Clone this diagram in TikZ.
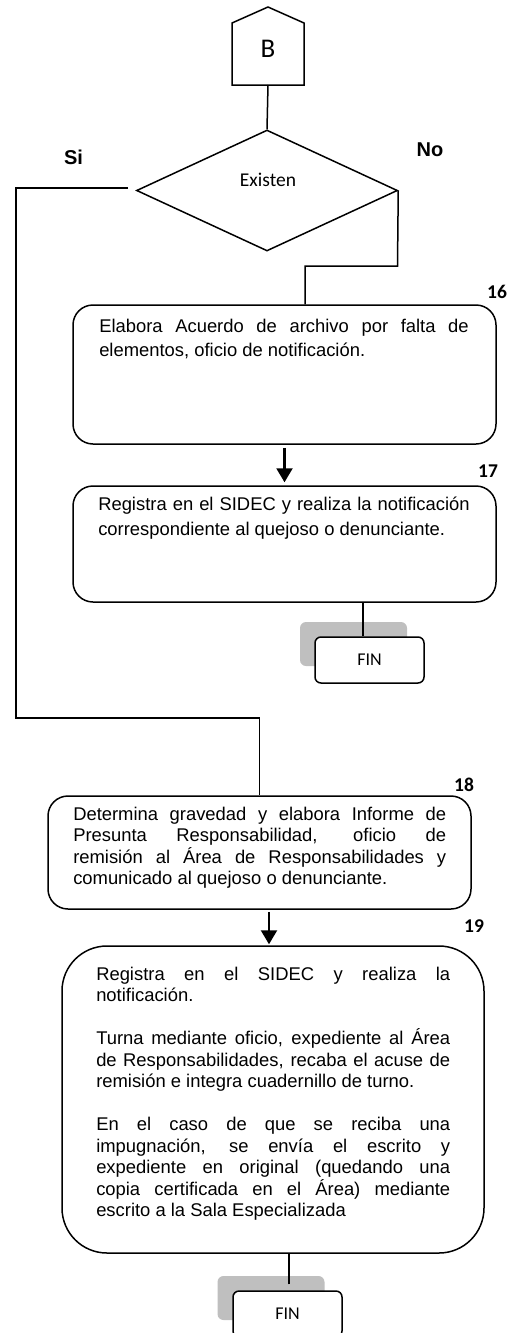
\documentclass[tikz,border=0pt]{standalone}
\usepackage{fontspec}
\setmainfont{Liberation Sans}
\newfontfamily\calibri{Carlito}
\usetikzlibrary{arrows.meta, shapes.geometric}
\definecolor{shadegray}{HTML}{BFBFBF}
\setlength{\parindent}{0pt}
\hyphenpenalty=10000
\tolerance=9999

\begin{document}
\begin{tikzpicture}[x=1pt, y=-1pt, line width=1.5pt,
    procbox/.style={draw, rounded corners=20pt, minimum width=423pt, inner sep=0pt},
    bodytext/.style={anchor=base west, inner sep=0pt, align=justify, font=\fontsize{18.4}{21.5}\selectfont},
    finbox/.style={draw, fill=white, rounded corners=6pt, minimum width=109pt, minimum height=46pt, font=\calibri\fontsize{18}{22}\selectfont},
    finshade/.style={fill=shadegray, rounded corners=6pt, minimum width=107pt, minimum height=44pt},
    numlabel/.style={font=\calibri\bfseries\fontsize{19.5}{22}\selectfont},
    branch/.style={font=\bfseries\fontsize{20}{24}\selectfont},
    arr/.style={-{Triangle[width=16pt,length=14pt]}, line width=2.2pt}]

    \useasboundingbox (0,0) rectangle (522,1333);

    % connector B
    \draw (232,85) -- (232,23) -- (268,7) -- (304,23) -- (304,85) -- cycle;
    \node[font=\calibri\fontsize{27}{30}\selectfont] (B) at (268,48.5) {B};
    \coordinate (Bbot) at (268,85);

    % decision
    \node[diamond, draw, minimum width=261pt, minimum height=121pt, inner sep=0pt] (dec) at (267,190.5) {};
    \node[font=\calibri\fontsize{19.5}{22}\selectfont] (exist) at (268,180) {Existen};
    \node[branch] (si) at (73.5,157) {Si};
    \node[branch] (no) at (430,149.5) {No};

    % step 16
    \node[procbox, minimum height=139pt] (p16) at (284.5,374.5) {};
    \node[bodytext, text width=369.5pt, font=\fontsize{18.4}{24.3}\selectfont] (t16) at (98.5,332)
        {Elabora Acuerdo de archivo por falta de\linebreak elementos, oficio de notificación.};
    \node[numlabel] (n16) at (497,292) {16};

    % step 17
    \node[procbox, minimum height=116pt] (p17) at (284.5,544) {};
    \node[bodytext, text width=371.5pt, font=\fontsize{18.4}{24.3}\selectfont] (t17) at (97.5,510.7)
        {Registra en el SIDEC y realiza la notificación\linebreak correspondiente al quejoso o denunciante.};
    \node[numlabel] (n17) at (488,471) {17};

    % end 1
    \node[finshade] (fin1s) at (353.5,644) {};
    \node[finbox] (fin1) at (369.5,660) {FIN};

    % step 18
    \node[procbox, minimum height=113pt] (p18) at (259.5,852.5) {};
    \node[bodytext, text width=373pt] (t18) at (72.5,820)
        {Determina gravedad y elabora Informe de\linebreak Presunta Responsabilidad, oficio de\linebreak
         remisión al Área de Responsabilidades y\linebreak comunicado al quejoso o denunciante.};
    \node[numlabel] (n18) at (464,784.5) {18};

    % step 19
    \node[procbox, rounded corners=45pt, minimum width=422pt, minimum height=307pt] (p19) at (273,1099.5) {};
    \node[bodytext, text width=354pt] (t19) at (95.5,980)
        {Registra en el SIDEC y realiza la\linebreak notificación.\par\vspace{21.5pt}
         Turna mediante oficio, expediente al Área\linebreak de Responsabilidades, recaba el acuse de\linebreak
         remisión e integra cuadernillo de turno.\par\vspace{21.5pt}
         En el caso de que se reciba una\linebreak impugnación, se envía el escrito y\linebreak
         expediente en original (quedando una\linebreak copia certificada en el Área) mediante\linebreak
         escrito a la Sala Especializada};
    \node[numlabel] (n19) at (474,926) {19};

    % end 2
    \node[finshade] (fin2s) at (271,1298) {};
    \node[finbox] (fin2) at (287.5,1314) {FIN};

    % connectors
    \draw (Bbot) -- (dec.north);

    \coordinate (sistart) at (128,188);
    \coordinate (siturn) at (16,718);
    \draw (sistart) -| (siturn) -| (p18.north);

    \coordinate (noturn) at (397.5,266);
    \draw (dec.east) -- (noturn) -| ([xshift=20.5pt]p16.north);

    \draw[arr, shorten >=3pt] ([yshift=-3pt]p16.south) -- (p17.north);
    \draw[arr, shorten >=1pt] ([xshift=9.5pt,yshift=-2pt]p18.south) -- ([xshift=-4pt]p19.north);

    \coordinate (f1top) at ([xshift=-6.5pt]fin1.north);
    \draw (f1top) -- (f1top |- p17.south);
    \coordinate (f2top) at ([xshift=1.5pt,yshift=6pt]fin2.north);
    \draw (f2top) -- (f2top |- p19.south);

\end{tikzpicture}
\end{document}
